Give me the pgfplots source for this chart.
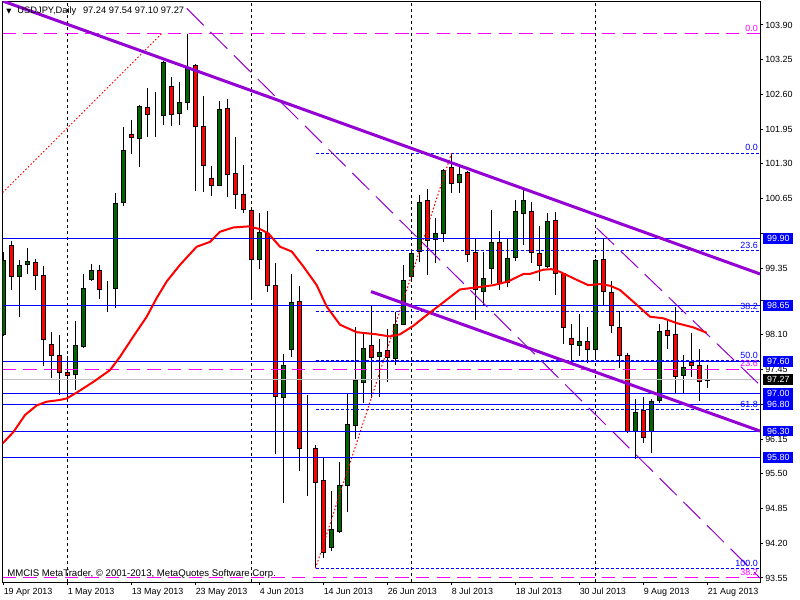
\documentclass[border=0pt]{standalone}
\usepackage{fontspec}
\setmainfont{Liberation Sans}
\newfontfamily\symfont{DejaVu Sans}
\usepackage{pgfplots}
\usepackage{pgfplotstable}
\pgfplotsset{compat=1.18}

\definecolor{bull}{RGB}{0,100,0}
\definecolor{trend}{RGB}{148,0,211}
\definecolor{fibmag}{RGB}{255,0,255}
\definecolor{bidgray}{RGB}{192,192,192}
\newcommand{\mt}{\fontsize{6.7pt}{8pt}\selectfont}

% common geometry of the three stacked axes (1px = 0.75pt)
\pgfplotsset{
  chartbox/.style={
    scale only axis, width=568.125pt, height=435pt,
    at={(0pt,0pt)}, anchor=south west,
    xmin=-0.125, xmax=94.5625, ymin=93.475, ymax=104.33,
  },
}

% daily USDJPY bars, index 0 = 19 Apr 2013
\pgfplotstableread{
i o h l c
0 98.10 99.65 98.08 99.50
1 99.78 99.86 98.94 99.19
2 99.19 99.50 98.44 99.40
3 99.41 99.72 99.24 99.48
4 99.46 99.53 98.94 99.22
5 99.22 99.39 97.51 98.02
6 97.92 98.15 97.30 97.71
7 97.72 98.10 96.98 97.40
8 97.40 97.71 96.90 97.34
9 97.36 98.36 97.07 97.91
10 97.88 99.24 97.85 98.97
11 99.14 99.43 99.10 99.30
12 99.30 99.41 98.77 98.95
13 98.97 99.11 98.53 98.97
14 98.97 100.76 98.61 100.56
15 100.57 102.00 100.51 101.56
16 101.85 102.12 101.48 101.80
17 101.78 102.40 101.24 102.38
18 102.36 102.72 101.80 102.22
19 102.22 102.64 101.80 102.22
20 102.21 103.22 102.03 103.20
21 102.75 102.92 102.00 102.23
22 102.25 102.84 102.03 102.44
23 102.45 103.73 102.31 103.09
24 103.15 103.17 100.79 102.00
25 102.00 102.57 100.78 101.27
26 101.02 101.26 100.70 100.90
27 100.90 102.48 100.88 102.32
28 102.34 102.51 100.68 101.11
29 101.12 101.81 100.46 100.72
30 100.72 101.28 100.38 100.45
31 100.42 100.45 98.79 99.52
32 99.52 100.39 99.33 100.01
33 99.99 100.42 98.91 99.02
34 99.02 99.44 95.87 96.94
35 96.93 97.74 94.95 97.52
36 97.83 99.24 97.68 98.71
37 98.73 99.02 95.56 95.98
38 95.98 96.98 95.09 95.98
39 95.98 96.04 93.74 95.34
40 95.37 95.79 93.93 94.03
41 94.12 95.18 94.06 94.45
42 94.42 95.73 94.40 95.29
43 95.28 96.99 94.79 96.43
44 96.41 98.25 96.15 97.24
45 97.21 98.13 96.83 97.85
46 97.91 98.65 96.92 97.68
47 97.69 98.02 96.93 97.77
48 97.80 98.21 97.21 97.68
49 97.66 98.53 97.54 98.30
50 98.30 99.41 98.28 99.11
51 99.19 99.69 99.13 99.63
52 99.66 100.71 99.47 100.58
53 100.61 100.83 99.22 99.86
54 99.88 100.28 99.45 99.99
55 100.00 101.21 99.84 101.17
56 101.24 101.50 100.75 100.94
57 100.95 101.25 100.75 101.11
58 101.13 101.17 99.46 99.61
59 99.65 99.89 98.38 98.94
60 98.92 99.66 98.66 99.16
61 99.35 100.44 99.05 99.83
62 99.83 100.05 98.94 99.07
63 99.08 99.91 98.99 99.53
64 99.55 100.63 99.48 100.40
65 100.38 100.81 99.78 100.61
66 100.41 100.59 99.44 99.65
67 99.63 100.13 99.10 99.39
68 99.38 100.39 99.35 100.22
69 100.24 100.41 98.85 99.25
70 99.24 99.26 97.93 98.24
71 98.04 98.30 97.62 97.92
72 97.90 98.49 97.71 97.97
73 97.98 98.24 97.57 97.83
74 97.83 99.52 97.63 99.50
75 99.51 99.89 98.64 98.92
76 98.89 99.11 98.14 98.27
77 98.24 98.55 97.48 97.71
78 97.71 97.77 96.27 96.29
79 96.29 96.90 95.78 96.65
80 96.68 96.93 96.08 96.18
81 96.29 96.90 95.88 96.86
82 96.87 98.30 96.82 98.17
83 98.19 98.38 97.83 98.09
84 98.10 98.63 97.02 97.32
85 97.34 97.72 96.99 97.49
86 97.58 98.13 97.31 97.52
87 97.52 97.83 96.87 97.22
88 97.24 97.54 97.10 97.27
}\candles

% moving average
\pgfplotstableread{
x ma
-0.10 96.07
1.23 96.28
2.69 96.60
4.15 96.78
5.40 96.85
6.98 96.88
7.90 96.91
9.15 97.02
11.23 97.22
13.31 97.44
14.56 97.69
16.23 98.07
17.90 98.44
19.15 98.79
20.40 99.10
22.06 99.41
24.15 99.75
25.81 99.84
27.06 100.03
28.73 100.11
30.60 100.13
32.06 100.08
33.10 100.00
34.56 99.75
36.03 99.66
37.48 99.38
39.15 99.03
40.40 98.63
42.06 98.29
44.15 98.15
46.65 98.11
48.31 98.07
49.56 98.11
51.23 98.27
52.90 98.47
54.56 98.66
57.06 98.95
59.15 98.99
61.23 99.03
63.10 99.10
64.98 99.24
65.80 99.24
67.48 99.32
68.50 99.33
69.56 99.28
71.65 99.13
73.10 99.03
74.56 99.05
75.81 99.02
77.06 98.94
78.73 98.72
80.81 98.44
82.48 98.41
84.15 98.32
86.23 98.24
87.90 98.14
}\ma

\begin{document}
\begin{tikzpicture}
\path[use as bounding box] (-1.875pt,-13.5pt) rectangle (598.125pt,436.5pt);

% frame, ticks, separators, wicks
\begin{axis}[chartbox,
  axis line style={line width=0.75pt},
  tick style={black, line width=0.75pt},
  tick align=outside, major tick length=2.25pt,
  xtick pos=left, ytick pos=right, yticklabel pos=right,
  xtick={0,8,16,24,32,40,48,56,64,72,80,88},
  xticklabels={19 Apr 2013,1 May 2013,13 May 2013,23 May 2013,4 Jun 2013,14 Jun 2013,26 Jun 2013,8 Jul 2013,18 Jul 2013,30 Jul 2013,9 Aug 2013,21 Aug 2013},
  ytick={93.55,94.20,94.85,95.50,96.15,96.80,97.45,98.10,98.75,99.35,100.00,100.65,101.30,101.95,102.60,103.25,103.90},
  % labels hidden behind the price boxes are left out
  yticklabels={93.55,94.20,94.85,95.50,96.15,,97.45,98.10,,99.35,,100.65,101.30,101.95,102.60,103.25,103.90},
  ticklabel style={font=\mt, inner sep=0pt},
  xticklabel style={anchor=north west, yshift=-2.25pt},
  yticklabel style={anchor=west, xshift=1.5pt},
]
\addplot[black, line width=0.75pt, dash pattern=on 2.25pt off 2.25pt] coordinates {(8,93.475) (8,104.33)};
\addplot[black, line width=0.75pt, dash pattern=on 2.25pt off 2.25pt] coordinates {(31,93.475) (31,104.33)};
\addplot[black, line width=0.75pt, dash pattern=on 2.25pt off 2.25pt] coordinates {(51,93.475) (51,104.33)};
\addplot[black, line width=0.75pt, dash pattern=on 2.25pt off 2.25pt] coordinates {(74,93.475) (74,104.33)};

\addplot[draw=none, error bars/.cd, y dir=both, y explicit, error mark=none,
  error bar style={draw=black, solid, line width=0.75pt}]
  table[x=i, y expr={(\thisrow{h}+\thisrow{l})/2}, y error expr={(\thisrow{h}-\thisrow{l})/2}] {\candles};
\end{axis}

% candle bodies
\begin{axis}[chartbox, hide axis, ybar stacked, bar width=0.5]
\addplot[draw=none, fill=none] table[x=i, y expr={min(\thisrow{o},\thisrow{c})}] {\candles};
\addplot[draw=black, fill=bull, line width=0.75pt] table[x=i, y expr={max(\thisrow{c}-\thisrow{o},0)}] {\candles};
\addplot[draw=black, fill=red, line width=0.75pt] table[x=i, y expr={max(\thisrow{o}-\thisrow{c},0)}] {\candles};
\end{axis}

% objects, indicator and labels
\begin{axis}[chartbox, hide axis, clip mode=individual]
% fibo 1 (magenta)
\addplot[fibmag, line width=0.75pt, dash pattern=on 10pt off 5.5pt] coordinates {(-0.125,103.74) (94.5625,103.74)};
\addplot[fibmag, line width=0.75pt, dash pattern=on 10pt off 5.5pt] coordinates {(-0.125,97.46) (94.5625,97.46)};
\addplot[fibmag, line width=0.75pt, dash pattern=on 10pt off 5.5pt] coordinates {(-0.125,93.56) (94.5625,93.56)};
\addplot[red, line width=0.75pt, dash pattern=on 1.2pt off 1.5pt] coordinates {(-0.125,100.76) (19.78,103.74)};
% fibo 2 (blue)
\addplot[blue, line width=0.75pt, dash pattern=on 2.25pt off 1.5pt] coordinates {(39,101.50) (94.5625,101.50)};
\addplot[blue, line width=0.75pt, dash pattern=on 2.25pt off 1.5pt] coordinates {(39,99.67) (94.5625,99.67)};
\addplot[blue, line width=0.75pt, dash pattern=on 2.25pt off 1.5pt] coordinates {(39,98.53) (94.5625,98.53)};
\addplot[blue, line width=0.75pt, dash pattern=on 2.25pt off 1.5pt] coordinates {(39,97.62) (94.5625,97.62)};
\addplot[blue, line width=0.75pt, dash pattern=on 2.25pt off 1.5pt] coordinates {(39,96.70) (94.5625,96.70)};
\addplot[blue, line width=0.75pt, dash pattern=on 2.25pt off 1.5pt] coordinates {(39,93.73) (94.5625,93.73)};
\addplot[red, line width=0.75pt, dash pattern=on 1.2pt off 1.5pt] coordinates {(39,93.73) (56,101.50)};
% support / resistance
\addplot[bidgray, line width=0.75pt] coordinates {(-0.125,97.27) (94.5625,97.27)};
\addplot[blue, line width=0.75pt] coordinates {(-0.125,99.90) (94.5625,99.90)};
\addplot[blue, line width=0.75pt] coordinates {(-0.125,98.65) (94.5625,98.65)};
\addplot[blue, line width=0.75pt] coordinates {(-0.125,97.60) (94.5625,97.60)};
\addplot[blue, line width=0.75pt] coordinates {(-0.125,97.00) (94.5625,97.00)};
\addplot[blue, line width=0.75pt] coordinates {(-0.125,96.80) (94.5625,96.80)};
\addplot[blue, line width=0.75pt] coordinates {(-0.125,96.30) (94.5625,96.30)};
\addplot[blue, line width=0.75pt] coordinates {(-0.125,95.80) (94.5625,95.80)};
% trend lines
\addplot[trend, line width=0.75pt, dash pattern=on 18pt off 7pt] coordinates {(22.9,104.21) (94.5625,93.55)};
\addplot[trend, line width=0.75pt, dash pattern=on 18pt off 7pt] coordinates {(74.15,100.10) (94.5625,97.16)};
\addplot[trend, line width=2.25pt] coordinates {(-0.125,104.35) (94.5625,99.24)};
\addplot[trend, line width=2.25pt] coordinates {(45.94,98.91) (94.5625,96.30)};
% moving average
\addplot[red, line width=1.5pt] table[x=x, y=ma] {\ma};

% level captions
\begin{scope}[every node/.style={font=\mt, inner sep=0pt, anchor=south east, yshift=1.5pt}]
\node[text=fibmag] at (axis cs:94.31,103.74) {0.0};
\node[text=fibmag] at (axis cs:94.31,97.46) {23.6};
\node[text=fibmag] at (axis cs:94.31,93.56) {38.2};
\node[text=blue] at (axis cs:94.31,101.50) {0.0};
\node[text=blue] at (axis cs:94.31,99.67) {23.6};
\node[text=blue] at (axis cs:94.31,98.53) {38.2};
\node[text=blue] at (axis cs:94.31,97.62) {50.0};
\node[text=blue] at (axis cs:94.31,96.70) {61.8};
\node[text=blue] at (axis cs:94.31,93.73) {100.0};
\end{scope}

% price boxes on the scale
\pgfplotsinvokeforeach{99.90,98.65,97.60,97.00,96.80,96.30,95.80}{
  \node[fill=blue, text=white, font=\mt, inner sep=0pt, anchor=west,
    minimum width=22.5pt, minimum height=8pt] at (axis cs:94.94,#1) {#1};
}
\node[fill=black, text=white, font=\mt, inner sep=0pt, anchor=west,
  minimum width=22.5pt, minimum height=8pt] at (axis cs:94.94,97.27) {97.27};

\node[font=\fontsize{7pt}{8pt}\selectfont, inner sep=0pt, anchor=west] at (axis cs:0.3125,104.16)
  {{\symfont\fontsize{5pt}{6pt}\selectfont ▼}\hspace{4.5pt}USDJPY,Daily\hspace{5pt}97.24 97.54 97.10 97.27};
\node[font=\fontsize{7.2pt}{8pt}\selectfont, inner sep=0pt, anchor=west] at (axis cs:0.4375,93.625)
  {MMCIS MetaTrader, © 2001-2013, MetaQuotes Software Corp.};
\end{axis}
\end{tikzpicture}
\end{document}
